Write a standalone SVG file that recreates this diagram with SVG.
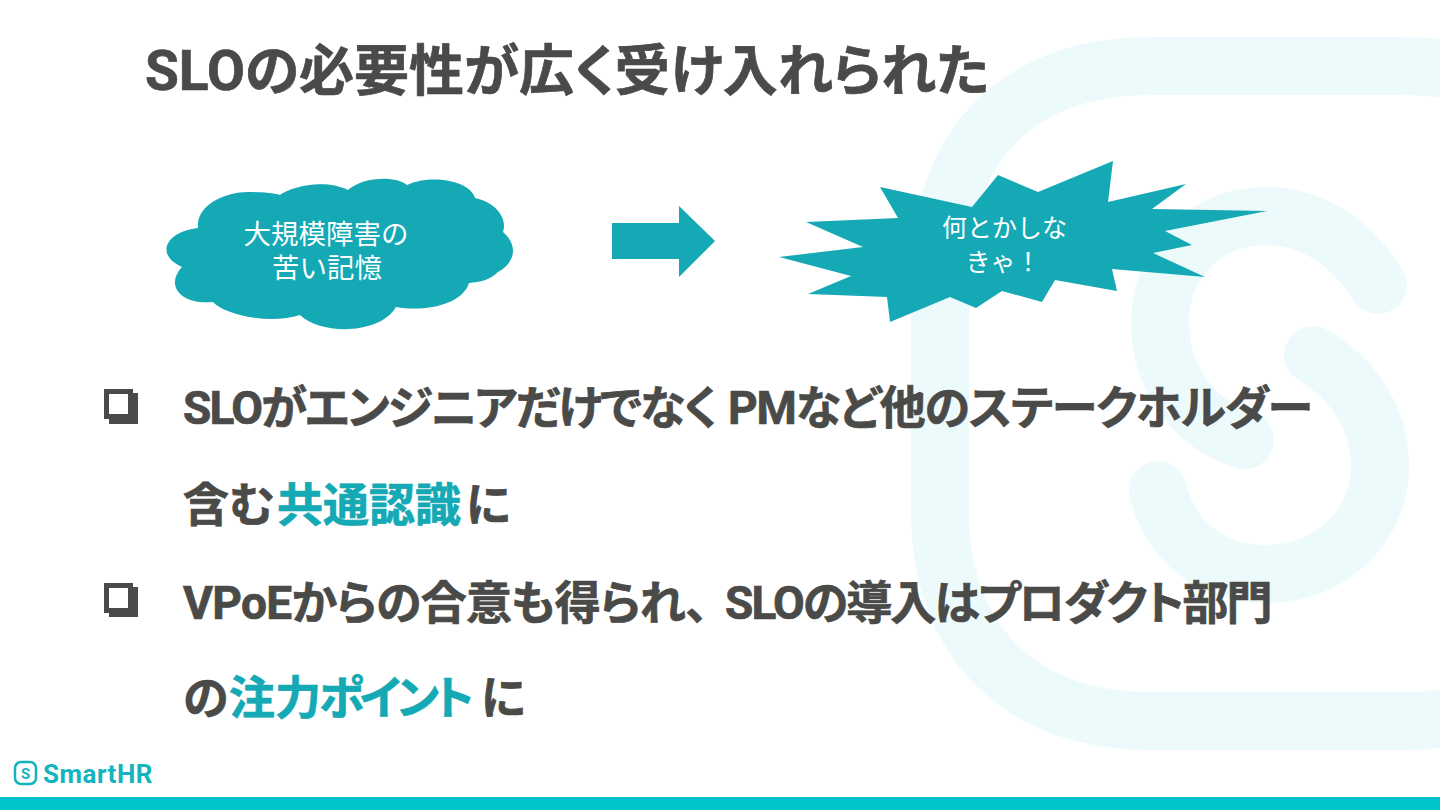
<svg xmlns="http://www.w3.org/2000/svg" width="1440" height="810" viewBox="0 0 1440 810">
<style>
text{font-family:Roboto,"Noto Sans CJK JP",sans-serif}
.h{font-weight:700;fill:#4a4a48;stroke:#4a4a48;stroke-width:.7;font-feature-settings:"palt"}
.a{fill:#14a9b4;stroke:#14a9b4}
.b{font-size:46px}
.w{fill:#fff;text-anchor:middle;font-family:"Liberation Sans","Noto Sans CJK JP",sans-serif}
.logo{fill:none;stroke:#edfafb;stroke-linecap:round;stroke-width:58}
</style>
<rect width="1440" height="810" fill="#fff"/>
<g id="bg-logo" class="logo">
<path d="M1470 74Q1440 66 1400 66H1150C1020 66 940 145 940 275V511C940 641 1020 721 1150 721H1400Q1440 721 1470 714" stroke-linecap="butt"/>
<path d="M1378 285C1350 240 1310 216 1265 216C1200 216 1160 268 1160 322C1160 380 1195 425 1245 440"/>
<path d="M1313 355C1355 380 1380 420 1380 465C1380 528 1330 574 1265 574C1210 574 1170 540 1158 490"/>
</g>
<g id="title"><text class="h" x="145" y="90" font-size="55">SLOの必要性が広く受け入れられた</text></g>
<g id="cloud">
<path class="a" style="stroke:none" d="M198 228C196 205 225 192 248 192C260 192 272 193 280 195C290 187 325 178 348 190C362 177 395 175 407 185C430 174 470 180 475 198C495 202 508 218 503 232C518 245 516 262 498 272C490 280 480 282 469 283C462 305 425 312 396 307C380 335 320 335 300 315C270 325 225 315 213 302C180 305 165 285 182 267C155 255 165 232 198 228Z"/>
<text class="w" x="326" y="244" font-size="27.500">大規模障害の</text>
<text class="w" x="327" y="278" font-size="27.500">苦い記憶</text>
</g>
<g id="arrow"><path class="a" style="stroke:none" d="M612 223H679V206L715 241L679 277V259H612Z"/></g>
<g id="burst">
<polygon class="a" style="stroke:none" points="880,187 972,207 998,175 1038,192 1113,161 1108,202 1186,184 1152,209 1267,211 1165,231 1192,245 1153,253 1205,277 1112,269 1117,291 1055,280 1042,302 1002,291 976,308 950,297 890,322 887,297 808,294 851,276 779,257 863,247 806,222 898,218"/>
<text class="w" x="1004.500" y="237" font-size="25">何とかしな</text>
<text class="w" x="1003" y="271" font-size="25">きゃ！</text>
</g>
<g id="bullets">
<path fill="#4a4a48" fill-rule="evenodd" d="M104 389H133V393H138V424H109V419H104ZM109 394V414H128V394Z"/>
<path fill="#4a4a48" fill-rule="evenodd" d="M104 583H133V587H138V617H109V613H104ZM109 588V608H128V588Z"/>
</g>
<g id="body">
<text class="h b" x="183" y="424"><tspan letter-spacing="-1.800">SLOがエンジニアだけでなく</tspan><tspan x="728" letter-spacing="-1.100">PMなど他のステークホルダー</tspan></text>
<text class="h b" x="183" y="521">含む<tspan class="a" x="277">共通認識</tspan><tspan x="466">に</tspan></text>
<text class="h b" x="183" y="619"><tspan letter-spacing="-.7">VPoEからの合意も得られ、</tspan><tspan x="725" letter-spacing="-1.900">SLOの導入はプロダクト部門</tspan></text>
<text class="h b" x="183" y="714">の<tspan class="a" x="229">注力</tspan><tspan class="a" x="319" letter-spacing="-4">ポイント</tspan><tspan x="481">に</tspan></text>
</g>
<g id="footer">
<rect y="797" width="1440" height="13" fill="#00c4cc"/>
<rect x="15" y="762" width="21" height="22" rx="6" fill="none" stroke="#14b4be" stroke-width="2.500"/>
<text x="25.500" y="779" font-size="15" font-weight="700" text-anchor="middle" fill="#14b4be">S</text>
<text x="43" y="783" font-size="26" font-weight="700" fill="#14b4be" letter-spacing=".5">SmartHR</text>
</g>
</svg>
